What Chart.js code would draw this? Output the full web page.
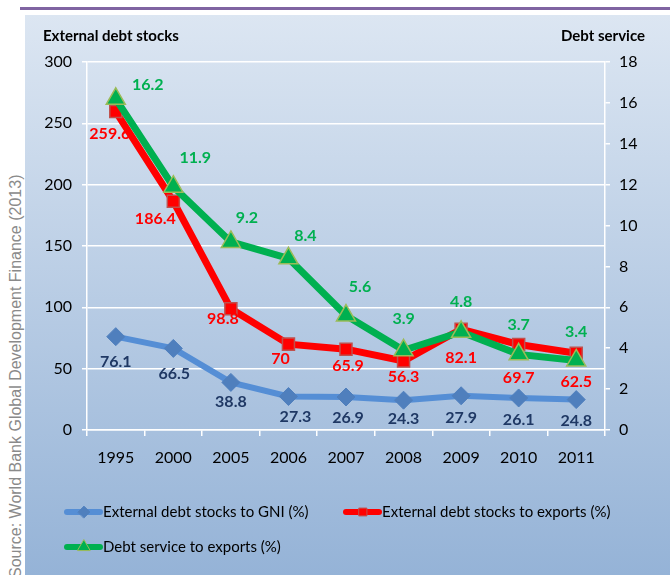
<!DOCTYPE html>
<html>
<head>
<meta charset="utf-8">
<script src="https://cdn.jsdelivr.net/npm/chart.js@4"></script>
<style>
  html, body { margin: 0; padding: 0; background: #fff; }
  body { width: 670px; height: 575px; position: relative; overflow: hidden; }
  #rule { position: absolute; left: 20px; top: 7px; width: 650px; height: 3px; background: #8064a2; }
  #panel { position: absolute; left: 25px; top: 15px; width: 645px; height: 560px;
           background: linear-gradient(#dce6f2, #95b3d7); }
  #chart { position: absolute; left: 25px; top: 15px; }
  #source { position: absolute; left: 5px; top: 578px; transform: rotate(-90deg); transform-origin: 0 0;
            white-space: nowrap; font: 16px "Liberation Sans", Arial, sans-serif; color: #8a8a8a; line-height: 22px; }
</style>
</head>
<body>
<div id="rule"></div>
<div id="panel"></div>
<div id="source">Source: World Bank Global Development Finance (2013)</div>
<canvas id="chart" width="645" height="560"></canvas>
<script>
const years = ["1995", "2000", "2005", "2006", "2007", "2008", "2009", "2010", "2011"];
const debtToGni = [76.1, 66.5, 38.8, 27.3, 26.9, 24.3, 27.9, 26.1, 24.8];
const debtToExports = [259.6, 186.4, 98.8, 70, 65.9, 56.3, 82.1, 69.7, 62.5];
const serviceToExports = [16.2, 11.9, 9.2, 8.4, 5.6, 3.9, 4.8, 3.7, 3.4];

const FONT = 'Lato, "DejaVu Sans Condensed", sans-serif';

// label offsets relative to each point [dx, dy]
const gniLabelOffsets = [[0, 25], [1, 25], [0, 19], [7, 20], [2, 21], [0, 19], [0, 22], [0, 22], [0, 21]];
const exportsLabelOffsets = [[-6, 22], [-18, 17], [-8, 10], [-8, 15], [2, 17], [0, 16], [0, 29], [0, 33], [0, 29]];
const serviceLabelOffsets = [[32, -14], [22, -29], [16, -24], [17, -22], [14, -29], [0, -31], [0, -30], [0, -30], [0, -29]];

const labelPlugin = {
  id: "pointLabels",
  afterDatasetsDraw(chart) {
    const ctx = chart.ctx;
    ctx.save();
    ctx.font = "bold 16px " + FONT;
    ctx.textAlign = "center";
    ctx.textBaseline = "middle";
    chart.data.datasets.forEach((ds, i) => {
      const meta = chart.getDatasetMeta(i);
      ctx.fillStyle = ds.labelColor;
      meta.data.forEach((pt, j) => {
        const off = ds.labelOffsets[j];
        ctx.fillText(String(ds.data[j]), pt.x + off[0], pt.y + off[1]);
      });
    });
    ctx.restore();
  }
};

const extrasPlugin = {
  id: "extras",
  afterDraw(chart) {
    const ctx = chart.ctx;
    ctx.save();
    ctx.fillStyle = "#000";
    ctx.font = "bold 15px " + FONT;
    ctx.textBaseline = "middle";
    ctx.textAlign = "left";
    ctx.fillText("External debt stocks", 18, 21);
    ctx.textAlign = "right";
    ctx.fillText("Debt service", 620, 21);

    // legend
    const items = [
      {ds: 2, x: 42, y: 497},
      {ds: 1, x: 321, y: 497},
      {ds: 0, x: 42, y: 532}
    ];
    ctx.font = "15px " + FONT;
    ctx.textAlign = "left";
    items.forEach(it => {
      const ds = chart.data.datasets[it.ds];
      ctx.strokeStyle = ds.borderColor;
      ctx.lineWidth = 6;
      ctx.lineCap = "round";
      ctx.beginPath();
      ctx.moveTo(it.x, it.y);
      ctx.lineTo(it.x + 33, it.y);
      ctx.stroke();
      ctx.fillStyle = ds.pointBackgroundColor;
      ctx.strokeStyle = ds.pointBorderColor;
      ctx.lineWidth = 1;
      Chart.helpers.drawPoint(ctx, {pointStyle: ds.pointStyle, radius: ds.pointRadius * 0.65, borderWidth: 1}, it.x + 17, it.y);
      ctx.fillStyle = "#000";
      ctx.fillText(ds.label, it.x + 36, it.y);
    });
    ctx.restore();
  }
};

new Chart(document.getElementById("chart"), {
  type: "line",
  data: {
    labels: years,
    datasets: [
      {
        label: "Debt service to exports (%)",
        data: serviceToExports,
        yAxisID: "y1",
        order: 0,
        borderColor: "#00b050",
        borderWidth: 7,
        pointStyle: "triangle",
        pointRadius: 11,
        pointBackgroundColor: "#00b050",
        pointBorderColor: "#9bbb59",
        pointBorderWidth: 1.5,
        labelColor: "#00b050",
        labelOffsets: serviceLabelOffsets
      },
      {
        label: "External debt stocks to exports (%)",
        data: debtToExports,
        yAxisID: "y",
        order: 1,
        borderColor: "#ff0000",
        borderWidth: 7,
        pointStyle: "rect",
        pointRadius: 8.5,
        pointBackgroundColor: "#ff0000",
        pointBorderColor: "#c0504d",
        pointBorderWidth: 1.5,
        labelColor: "#ff0000",
        labelOffsets: exportsLabelOffsets
      },
      {
        label: "External debt stocks to GNI (%)",
        data: debtToGni,
        yAxisID: "y",
        order: 2,
        borderColor: "#558ed5",
        borderWidth: 6,
        pointStyle: "rectRot",
        pointRadius: 9,
        pointBackgroundColor: "#4f7fbd",
        pointBorderColor: "#4f7fbd",
        pointBorderWidth: 1,
        labelColor: "#1f3864",
        labelOffsets: gniLabelOffsets
      }
    ]
  },
  options: {
    responsive: false,
    animation: false,
    layout: { padding: { left: 0, right: 0, top: 47, bottom: 105 } },
    plugins: { legend: { display: false }, tooltip: { enabled: false } },
    elements: { line: { tension: 0 } },
    scales: {
      x: {
        offset: true,
        afterFit(s) { s.height = 40; },
        grid: { offset: true, drawOnChartArea: false, color: "#fff", lineWidth: 1.5, tickLength: 6 },
        border: { color: "#fff", width: 1.5 },
        ticks: { color: "#000", font: { family: FONT, size: 16 }, padding: 12, maxRotation: 0 }
      },
      y: {
        position: "left",
        min: 0, max: 300,
        afterFit(s) { s.width = 62; },
        grid: { color: "#fff", lineWidth: 1.5, tickLength: 5 },
        border: { color: "#fff", width: 1.5 },
        ticks: { stepSize: 50, color: "#000", font: { family: FONT, size: 16 }, padding: 10 }
      },
      y1: {
        position: "right",
        min: 0, max: 18,
        afterFit(s) { s.width = 65; },
        grid: { drawOnChartArea: false, color: "#fff", lineWidth: 1.5, tickLength: 5 },
        border: { color: "#fff", width: 1.5 },
        ticks: { stepSize: 2, color: "#000", font: { family: FONT, size: 16 }, padding: 9 }
      }
    }
  },
  plugins: [labelPlugin, extrasPlugin]
});
</script>
</body>
</html>
